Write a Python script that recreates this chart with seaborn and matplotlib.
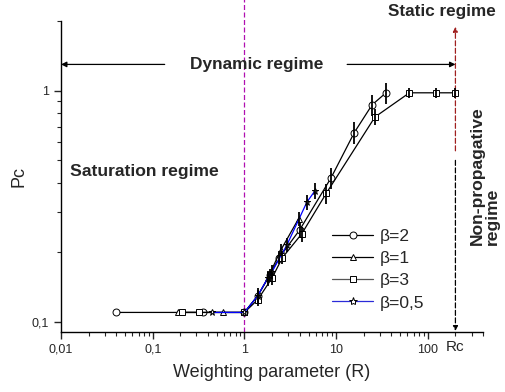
import numpy as np
import pandas as pd
import matplotlib
matplotlib.use("Agg")
import matplotlib.pyplot as plt
from matplotlib.lines import Line2D
from matplotlib.ticker import LogLocator, FixedLocator, FixedFormatter, NullFormatter
import seaborn as sns

# data
r_b2 = [0.04, 0.35, 1, 1.4, 1.9, 2.4, 4.0, 8.8, 15.8, 24.7, 35]
p_b2 = [0.11, 0.11, 0.11, 0.13, 0.16, 0.19, 0.25, 0.42, 0.66, 0.87, 0.98]
e_b2 = [0, 0, 0, 0.008, 0.01, 0.012, 0.02, 0.045, 0.07, 0.09, 0.1]

r_b1 = [0.19, 0.59, 1, 1.4, 1.8, 2.5, 3.9]
p_b1 = [0.11, 0.11, 0.11, 0.13, 0.155, 0.205, 0.28]
e_b1 = [0, 0, 0, 0.008, 0.01, 0.012, 0.02]

r_b3 = [0.21, 0.32, 1, 1.4, 2.0, 2.6, 4.2, 7.8, 26.5, 63, 122, 200]
p_b3 = [0.11, 0.11, 0.11, 0.125, 0.155, 0.19, 0.24, 0.36, 0.77, 0.98, 0.98, 0.98]
e_b3 = [0, 0, 0, 0.008, 0.01, 0.012, 0.018, 0.035, 0.06, 0.05, 0.05, 0.05]

r_b05 = [0.44, 1, 1.4, 1.8, 2.0, 2.9, 4.8, 5.9]
p_b05 = [0.11, 0.11, 0.13, 0.155, 0.165, 0.215, 0.33, 0.37]
e_b05 = [0, 0, 0.01, 0.012, 0.012, 0.015, 0.025, 0.03]

labels = ["β=2", "β=1", "β=3", "β=0,5"]
markers = {"β=2": "o", "β=1": "^", "β=3": "s", "β=0,5": "*"}
colors = {"β=2": "black", "β=1": "black", "β=3": "#555555", "β=0,5": "#2a2ad8"}
Rc = 200

sns.set_style("ticks")
plt.rcParams["font.family"] = ["Liberation Sans", "DejaVu Sans"]

frames = []
for lab, r, p, e in zip(labels, [r_b2, r_b1, r_b3, r_b05], [p_b2, p_b1, p_b3, p_b05], [e_b2, e_b1, e_b3, e_b05]):
    frames.append(pd.DataFrame({"R": r, "Pc": p, "err": e, "beta": lab}))
df = pd.concat(frames, ignore_index=True)

fig = plt.figure(figsize=(5.06, 3.92), dpi=100)
ax = fig.add_axes([0.1206, 0.153, 0.834, 0.793])

line_colors = {"β=2": "black", "β=1": "black", "β=3": "black", "β=0,5": "blue"}
sns.lineplot(data=df, x="R", y="Pc", hue="beta", style="beta", markers=markers,
             palette=line_colors, dashes=False, legend=False, ax=ax,
             linewidth=0.9, markersize=5, markerfacecolor="white",
             markeredgecolor="black", markeredgewidth=0.7, sort=False, zorder=3)
for lab, g in df.groupby("beta"):
    ax.errorbar(g["R"], g["Pc"], yerr=g["err"], fmt="none", ecolor="black",
                elinewidth=1.3, capsize=0, zorder=4)

ax.set_xscale("log")
ax.set_yscale("log")
ax.set_xlim(0.01, 400)
ax.set_ylim(0.0905, 2.0)
sns.despine(ax=ax)
for s in ["left", "bottom"]:
    ax.spines[s].set_linewidth(1.0)
    ax.spines[s].set_color("black")

ax.xaxis.set_major_locator(FixedLocator([0.01, 0.1, 1, 10, 100]))
ax.xaxis.set_major_formatter(FixedFormatter(["0,01", "0,1", "1", "10", "100"]))
ax.xaxis.set_minor_locator(LogLocator(base=10, subs=np.arange(2, 10)))
ax.xaxis.set_minor_formatter(NullFormatter())
ax.yaxis.set_major_locator(FixedLocator([0.1, 1]))
ax.yaxis.set_major_formatter(FixedFormatter(["0,1", "1"]))
ax.yaxis.set_minor_locator(LogLocator(base=10, subs=np.arange(2, 10)))
ax.yaxis.set_minor_formatter(NullFormatter())
ax.tick_params(which="major", length=5, width=1, labelsize=9, direction="out")
ax.tick_params(which="minor", length=3, width=0.8, direction="out")

ax.set_xlabel("Weighting parameter (R)", fontsize=13, labelpad=6)
ax.set_ylabel("Pc", fontsize=13, labelpad=3)

xt = ax.get_xaxis_transform()
ax.text(Rc, -0.025, "Rc", transform=xt, ha="center", va="top", fontsize=11)

# vertical dashed lines
ax.plot([1, 1], [0, 1.07], transform=xt, color="#b010b0", ls=(0, (4, 2)),
        lw=0.9, clip_on=False, zorder=2)
ax.annotate("", xy=(Rc, 1.89), xytext=(Rc, 0.55), annotation_clip=False,
            arrowprops=dict(arrowstyle="-|>", color="#a02020", ls=(0, (4, 2)),
                            lw=0.9, mutation_scale=7, shrinkA=0, shrinkB=0))
ax.annotate("", xy=(Rc, 0.0915), xytext=(Rc, 0.50), annotation_clip=False,
            arrowprops=dict(arrowstyle="-|>", color="black", ls=(0, (4, 2)),
                            lw=0.9, mutation_scale=7, shrinkA=0, shrinkB=0))

# dynamic regime arrows
ax.annotate("", xy=(0.01, 1.3), xytext=(0.135, 1.3), annotation_clip=False,
            arrowprops=dict(arrowstyle="-|>", color="black", lw=0.9,
                            mutation_scale=8, shrinkA=0, shrinkB=0))
ax.annotate("", xy=(Rc, 1.3), xytext=(13.2, 1.3), annotation_clip=False,
            arrowprops=dict(arrowstyle="-|>", color="black", lw=0.9,
                            mutation_scale=8, shrinkA=0, shrinkB=0))

ax.text(1.35, 1.3, "Dynamic regime", ha="center", va="center",
        fontsize=12.4, fontweight="bold")
ax.text(142, 2.2, "Static regime", ha="center", va="center",
        fontsize=12.3, fontweight="bold")
ax.text(0.0125, 0.447, "Saturation regime", ha="left", va="center",
        fontsize=12.6, fontweight="bold")
ax.text(420, 0.215, "Non-propagative\nregime", rotation=90, ha="center",
        va="bottom", multialignment="left", fontsize=12.6,
        fontweight="bold", linespacing=1.05, clip_on=False)

handles = [Line2D([], [], color=colors[lab], lw=0.9, marker=markers[lab],
                  markersize=5 if lab != "β=0,5" else 6, markerfacecolor="white",
                  markeredgecolor="black", markeredgewidth=0.7)
           for lab in labels]
ax.legend(handles, labels, loc="center left", bbox_to_anchor=(0.625, 0.2),
          frameon=False, fontsize=12.5, handlelength=2.4, handletextpad=0.35,
          labelspacing=0.4, numpoints=1, borderaxespad=0)

fig.savefig("out.png", dpi=100)
